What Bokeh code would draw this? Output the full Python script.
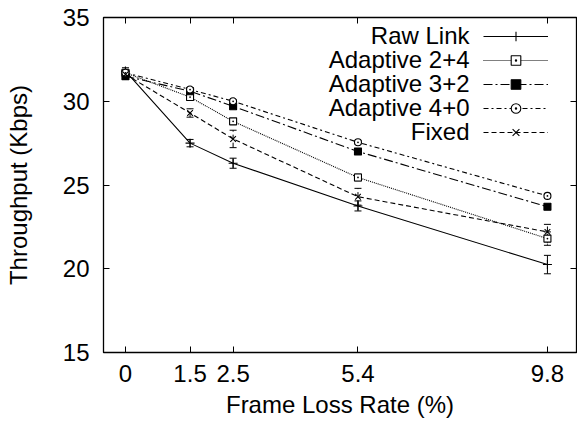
from bokeh.plotting import figure
from bokeh.models import (ColumnDataSource, Whisker, TeeHead, FixedTicker, LinearAxis,
                          Range1d, Legend, LegendItem, Label)
from bokeh.embed import file_html
from bokeh.resources import INLINE

# ---- data ----
loss_rate = [0, 1.5, 2.5, 5.4, 9.8]
loss_rate_labels = ["0", "1.5", "2.5", "5.4", "9.8"]
series_names = ["Raw Link", "Adaptive 2+4", "Adaptive 3+2", "Adaptive 4+0", "Fixed"]
raw_link = [31.8, 27.5, 26.3, 23.75, 20.25]
adaptive_24 = [31.7, 30.25, 28.8, 25.45, 21.8]
adaptive_32 = [31.5, 30.6, 29.7, 27.0, 23.7]
adaptive_40 = [31.7, 30.7, 30.0, 27.55, 24.35]
fixed = [31.6, 29.3, 27.75, 24.3, 22.2]
raw_link_err = [0.2, 0.22, 0.3, 0.3, 0.55]
adaptive_24_err = [0.15, 0.15, 0.15, 0.2, 0.4]
adaptive_32_err = [0.15, 0.12, 0.12, 0.1, 0.15]
adaptive_40_err = [0.15, 0.1, 0.1, 0.1, 0.1]
fixed_err = [0.15, 0.25, 0.52, 0.5, 0.45]
y_ticks = [15, 20, 25, 30, 35]

FONT = "Liberation Sans"
FS = "24px"

p = figure(width=577, height=425, output_backend="svg", toolbar_location=None,
           x_range=Range1d(-0.51, 10.475), y_range=Range1d(15, 35),
           min_border_left=103, min_border_right=1, min_border_top=17, min_border_bottom=73)
p.background_fill_color = "white"
p.border_fill_color = "white"
p.outline_line_color = "black"
p.outline_line_width = 1.3
p.xgrid.visible = False
p.ygrid.visible = False

def style_axis(ax, labels=True):
    ax.axis_line_color = "black"
    ax.major_tick_in = 6
    ax.major_tick_out = 0
    ax.minor_tick_line_color = None
    ax.major_tick_line_color = "black"
    if labels:
        ax.major_label_text_font = FONT
        ax.major_label_text_font_size = FS
        ax.major_label_text_color = "black"
        ax.axis_label_text_font = FONT
        ax.axis_label_text_font_size = FS
        ax.axis_label_text_font_style = "normal"
        ax.axis_label_text_color = "black"
    else:
        ax.major_label_text_font_size = "1px"
        ax.major_label_text_color = None
        ax.major_label_standoff = 0

p.xaxis.ticker = FixedTicker(ticks=loss_rate)
p.xaxis.major_label_overrides = dict(zip(loss_rate, loss_rate_labels))
p.yaxis.ticker = FixedTicker(ticks=y_ticks)
p.xaxis.axis_label = "Frame Loss Rate (%)"
p.yaxis.axis_label = "Throughput (Kbps)"
style_axis(p.xaxis[0])
style_axis(p.yaxis[0])
p.xaxis.major_label_standoff = 12
p.yaxis.major_label_standoff = 14
p.xaxis.axis_label_standoff = 6
p.yaxis.axis_label_standoff = 28

top = LinearAxis(ticker=FixedTicker(ticks=loss_rate))
style_axis(top, labels=False)
p.add_layout(top, "above")
right = LinearAxis(ticker=FixedTicker(ticks=y_ticks))
style_axis(right, labels=False)
p.add_layout(right, "right")

specs = [
    (raw_link, raw_link_err, "solid", "cross", "black", 9),
    (adaptive_24, adaptive_24_err, "1 1", "square_dot", "white", 7),
    (adaptive_32, adaptive_32_err, "9 3 2 3", "square", "black", 7),
    (adaptive_40, adaptive_40_err, "5 3 2 3", "circle_dot", "white", 7),
    (fixed, fixed_err, "5 3", "x", "black", 8),
]

items = []
for name, (vals, errs, dash, marker, fill, size) in zip(series_names, specs):
    src = ColumnDataSource(dict(x=loss_rate, y=vals,
                                upper=[v + e for v, e in zip(vals, errs)],
                                lower=[v - e for v, e in zip(vals, errs)]))
    lr = p.line("x", "y", source=src, line_color="black", line_width=1.1, line_dash=dash)
    mr = p.scatter("x", "y", source=src, marker=marker, size=size, line_color="black",
                   fill_color=fill, line_width=1.1)
    w = Whisker(source=src, base="x", upper="upper", lower="lower", dimension="height",
                line_color="black", line_width=1, line_dash=dash,
                upper_head=TeeHead(size=7, line_color="black", line_width=1),
                lower_head=TeeHead(size=7, line_color="black", line_width=1))
    p.add_layout(w)
    items.append(LegendItem(label=" ", renderers=[lr, mr]))

legend = Legend(items=items, location=(380, 208), orientation="vertical",
                glyph_width=65, glyph_height=24, label_height=24, label_width=0,
                label_standoff=0, label_text_font_size="1px", label_text_color=None,
                spacing=0, padding=0, margin=0,
                border_line_alpha=0, background_fill_alpha=0)
p.add_layout(legend, "center")

row_y = [317, 293, 269, 245, 221]
for name, yy in zip(series_names, row_y):
    p.add_layout(Label(x=366, y=yy, x_units="screen", y_units="screen", text=name,
                       text_align="right", text_baseline="middle",
                       text_font=FONT, text_font_size=FS, text_color="black"))

open("out.html", "w").write(file_html(p, INLINE))
